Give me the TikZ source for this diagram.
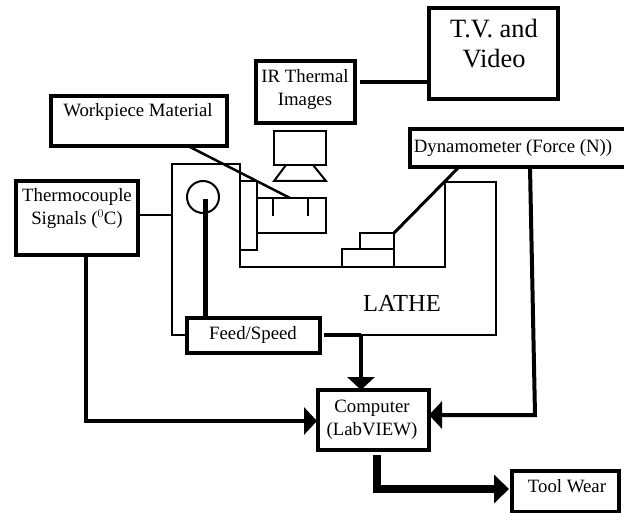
\documentclass[tikz,border=0pt]{standalone}
\usepackage{fontspec}
\setmainfont{Liberation Serif}
\usetikzlibrary{arrows.meta}
\tikzset{
  bx/.style={draw,line width=4pt,outer sep=0pt,minimum width=#1,inner sep=0pt,align=center,anchor=north west},
  thin2/.style={line width=2pt},
  wire/.style={line width=4pt},
  tip/.style={-{Triangle[length=13pt,width=27pt]}},
  txt/.style={font=\fontsize{18.8}{22.5}\selectfont,align=center,inner sep=0pt}
}
\begin{document}
\begin{tikzpicture}[x=1pt,y=-1pt,line join=miter]
\useasboundingbox[fill=white] (0,0) rectangle (624,513);
% lathe
\coordinate (lA) at (187,335);
\coordinate (lB) at (361,335);
\draw[thin2] (lA) -- (172,335) -- (172,164) -- (240,164) -- (240,267) -- (445,267) -- (445,182) -- (496,182) -- (496,335) -- (lB);
\draw[thin2] (240,181) -- (257,181) -- (257,250) -- (240,250);
\draw[thin2] (257,198) rectangle (326,233);
\draw[thin2] (273,198) -- (273,216);
\draw[thin2] (308,198) -- (308,216);
\node[draw,circle,thin2,minimum size=32pt,inner sep=0pt] (chuck) at (203,197) {};
% monitor
\draw[thin2] (274,131) rectangle (326,165);
\draw[thin2] (286,165) -- (274,181) -- (326,181) -- (313,165);
% steps
\draw[thin2] (342,267) -- (342,249) -- (394,249);
\draw[thin2] (360,249) -- (360,233) -- (394,233) -- (394,267);
% boxes
\node[bx=129pt,minimum height=91pt] (tv) at (429,8) {};
\node[txt,font=\fontsize{26.4}{30}\selectfont] at (494,44) {T.V. and\\Video};
\node[bx=99pt,minimum height=62pt] (ir) at (256,61) {};
\node[txt] at (305,89.5) {IR Thermal\\Images};
\node[bx=176pt,minimum height=50pt] (wp) at (51,96) {};
\node[txt] at (138,112) {Workpiece Material};
\node[bx=122pt,minimum height=74pt] (tc) at (16,181) {};
\node[txt] at (77,208.5) {Thermocouple\\Signals ($^{0}$C)};
\node[bx=225pt,minimum height=38pt] (dy) at (410,129) {};
\node[txt] at (513,148) {Dynamometer (Force (N))};
\node[bx=133pt,minimum height=35pt] (fs) at (187,318) {};
\node[txt] at (253,335) {Feed/Speed};
\node[bx=111pt,minimum height=60pt] (pc) at (317.5,390) {};
\node[txt] at (372,420) {Computer\\(LabVIEW)};
\node[bx=107pt,minimum height=41pt] (tw) at (512,471) {};
\node[txt] at (567,486) {Tool Wear};
\node[txt,font=\fontsize{24.5}{28}\selectfont] at (402,303) {LATHE};
% connectors
\draw[wire] (360,82) -- (tv.west |- 0,82);
\draw[line width=2.5pt] (tc.east |- 0,215) -- (172,215);
\draw[line width=2.5pt] (188,146) -- (290,198);
\draw[line width=3pt] (394,233) -- (459,167);
\draw[line width=5pt] (205,199) -- (205,318);
\draw[line width=3.5pt] (323.5,335) -- (lB);
\draw[wire,tip] (lB) -- (361,390);
\draw[wire,tip] (86,255) -- (86,421) -- (317,421);
\draw[wire,tip] (530,167) -- (535,415) -- (429,415);
\draw[line width=8pt,-{Triangle[length=15pt,width=28pt]}] (376.5,455) -- (376.5,489) -- (509,489);
\end{tikzpicture}
\end{document}
